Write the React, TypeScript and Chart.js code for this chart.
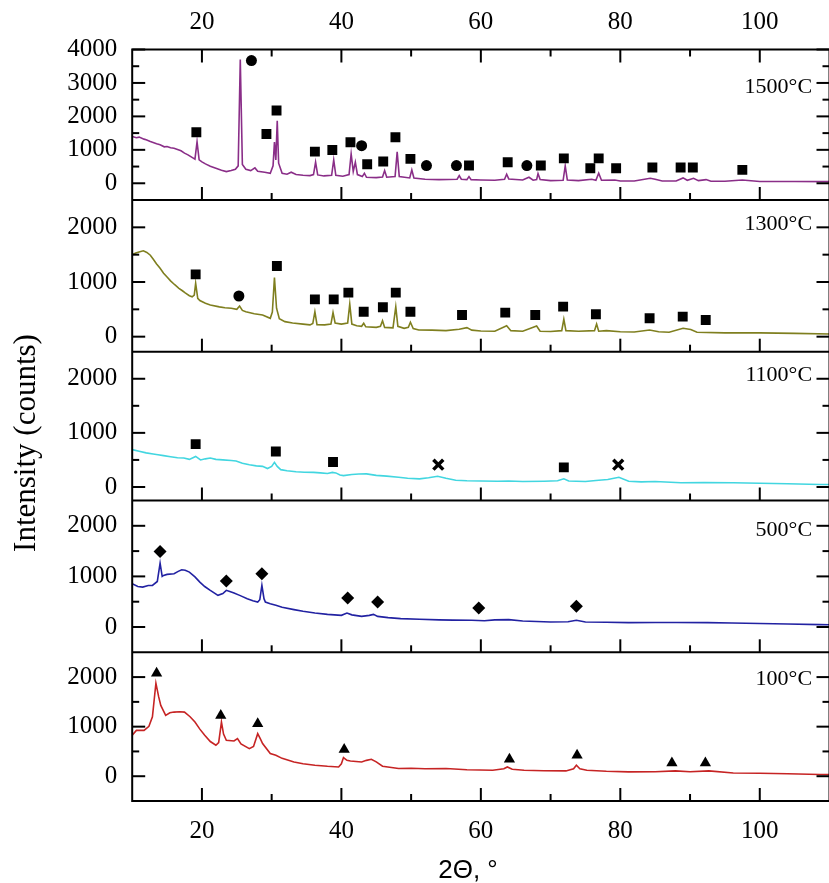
import React, { useEffect, useRef } from 'react';
import { Chart, registerables } from 'chart.js';

Chart.register(...registerables);

// ---------- data (2θ, counts) ----------
const pattern1500: number[][] = [
  [10, 1400], [10.6, 1360], [11, 1380], [11.7, 1320], [12, 1300], [12.6, 1250], [13, 1220], [13.5, 1180],
  [14, 1150], [14.6, 1090], [15, 1100], [15.5, 1060], [16, 1050], [16.5, 1010], [17, 970], [17.5, 900],
  [18, 850], [18.7, 760], [19.0, 720], [19.3, 1240], [19.6, 700], [20, 640], [20.5, 580], [21.2, 510],
  [22, 450], [22.8, 390], [23.5, 350], [24.2, 380], [24.8, 420], [25.2, 520], [25.5, 3700], [25.8, 560],
  [26.3, 420], [27.0, 380], [27.6, 460], [28.0, 360], [29.0, 330], [29.8, 300], [30.2, 520], [30.4, 1230],
  [30.6, 700], [30.8, 1870], [31.0, 600], [31.5, 300], [32.2, 270], [32.8, 330], [33.5, 260], [34.5, 240],
  [35.5, 230], [36.0, 260], [36.3, 630], [36.6, 250], [37.5, 220], [38.6, 240], [38.9, 700], [39.2, 240],
  [40.2, 210], [41.1, 260], [41.4, 880], [41.7, 350], [42.0, 630], [42.3, 260], [43.0, 200], [43.3, 300],
  [43.6, 180], [45.0, 170], [45.9, 190], [46.2, 380], [46.5, 180], [47.7, 200], [48.0, 940], [48.3, 200],
  [49.8, 160], [50.1, 400], [50.4, 160], [52, 120], [54, 110], [56.6, 120], [56.9, 230], [57.2, 120],
  [58.0, 110], [58.3, 200], [58.6, 110], [60, 100], [62, 90], [63.4, 120], [63.7, 270], [64.0, 130],
  [66, 100], [66.9, 180], [67.5, 90], [68.0, 110], [68.2, 290], [68.5, 110], [70, 80], [71.8, 90],
  [72.1, 520], [72.4, 100], [74, 80], [75.9, 120], [76.5, 90], [76.9, 300], [77.3, 90], [79.2, 100],
  [80, 70], [82, 70], [84.3, 150], [85, 120], [86, 70], [88, 70], [89.0, 160], [89.6, 90],
  [90.5, 150], [91.2, 80], [92.3, 110], [93, 60], [95, 60], [97.5, 100], [100, 55], [105, 55], [110, 50],
];

const pattern1300: number[][] = [
  [10, 1500], [10.5, 1530], [11.1, 1555], [11.6, 1570], [12.1, 1540], [12.6, 1490], [13.0, 1420], [13.5, 1330],
  [14.0, 1250], [14.5, 1160], [15.0, 1090], [15.5, 1020], [16.1, 950], [16.7, 885], [17.2, 840], [17.6, 800],
  [18.2, 750], [18.6, 730], [18.9, 760], [19.1, 975], [19.4, 700], [19.7, 660], [20.5, 610], [21.2, 580],
  [22.5, 545], [23.3, 530], [24.2, 520], [25.0, 500], [25.4, 560], [25.8, 480], [26.3, 457], [27.5, 420],
  [28.7, 397], [29.8, 336], [30.1, 450], [30.4, 1080], [30.7, 520], [31.1, 330], [31.9, 275], [33, 250],
  [34.5, 230], [35.5, 215], [35.9, 240], [36.2, 457], [36.5, 220], [37.6, 215], [38.5, 230], [38.8, 440],
  [39.1, 250], [40.0, 230], [40.9, 250], [41.2, 598], [41.5, 230], [42.2, 200], [42.9, 190], [43.2, 245],
  [43.5, 180], [45.0, 170], [45.6, 190], [45.9, 293], [46.2, 170], [47.4, 160], [47.8, 549], [48.1, 190],
  [49.0, 153], [49.6, 170], [49.9, 263], [50.3, 150], [51.1, 122], [53, 120], [55, 110], [56.9, 135],
  [58.0, 165], [58.7, 120], [60, 105], [62, 100], [63.7, 200], [64.3, 110], [66, 100], [68.0, 195],
  [68.5, 100], [70, 95], [71.6, 110], [71.9, 318], [72.2, 110], [74, 100], [76.3, 110], [76.6, 232],
  [76.9, 100], [78, 110], [80, 90], [82, 85], [84.2, 122], [85.5, 90], [87, 80], [89.0, 153],
  [90.1, 130], [91, 80], [95, 70], [100, 70], [105, 60], [110, 50],
];

const pattern1100: number[][] = [
  [10, 690], [11, 660], [12, 630], [13, 610], [13.7, 595], [14.5, 580], [15.5, 560], [16.5, 540],
  [17.4, 535], [18.2, 510], [19.1, 564], [19.8, 500], [20.5, 520], [21.2, 535], [22, 510], [23, 500],
  [24.2, 490], [24.9, 480], [25.8, 440], [26.8, 410], [27.8, 390], [28.7, 381], [29.4, 340], [30.0, 380],
  [30.4, 454], [30.8, 380], [31.3, 320], [32.2, 300], [33.5, 280], [34.7, 271], [36, 270], [37, 260],
  [38, 250], [38.7, 270], [39.2, 260], [39.8, 220], [40.3, 210], [41.5, 230], [42.5, 240], [43.6, 242],
  [45, 215], [46.5, 200], [48.2, 180], [49.5, 160], [51.2, 150], [52.5, 170], [53.8, 198], [55, 160],
  [56.4, 125], [58, 115], [60, 110], [62.4, 106], [64, 110], [66, 100], [69.1, 106], [71.0, 115],
  [71.9, 150], [72.6, 110], [73.7, 106], [75, 100], [76.5, 120], [78.2, 137], [79.8, 180], [81.2, 106],
  [83, 95], [85, 100], [88.7, 77], [92, 80], [96.2, 77], [100, 70], [104, 60], [108.6, 46], [110, 45],
];

const pattern500: number[][] = [
  [10, 856], [10.8, 800], [11.5, 789], [12.3, 820], [12.9, 822], [13.6, 900], [14.0, 1262], [14.3, 1000],
  [14.5, 1020], [15.0, 1040], [16.0, 1053], [16.6, 1100], [17.1, 1132], [17.6, 1120], [18.2, 1085], [19.0, 990],
  [19.7, 888], [20.4, 800], [21.2, 724], [22.3, 625], [23.0, 660], [23.5, 724], [24.0, 700], [24.6, 670],
  [25.5, 620], [26.5, 560], [27.3, 520], [28.0, 493], [28.3, 540], [28.6, 822], [28.9, 560], [29.1, 493],
  [29.8, 460], [30.6, 428], [31.5, 390], [33.2, 343], [34.5, 310], [36.2, 276], [38.0, 250], [40.0, 230],
  [40.8, 276], [41.5, 240], [42.9, 211], [44.0, 230], [44.6, 250], [45.2, 210], [46.7, 185], [48.5, 165],
  [51.2, 152], [54, 140], [56, 135], [58.7, 132], [60.5, 125], [62, 140], [64.0, 146], [66, 120],
  [68, 110], [70, 99], [72.5, 105], [73.7, 132], [75, 100], [78, 95], [81.2, 87], [85, 90],
  [88, 88], [92.5, 87], [96, 80], [100, 70], [104, 60], [108.6, 47], [110, 45],
];

const pattern100: number[][] = [
  [10, 825], [10.6, 925], [11.7, 925], [12.4, 1006], [12.9, 1200], [13.4, 1877], [13.8, 1600], [14.1, 1429],
  [14.8, 1227], [15.4, 1280], [16.0, 1294], [16.8, 1300], [17.5, 1294], [18.3, 1200], [19.0, 1093], [19.7, 950],
  [20.4, 825], [21.2, 700], [22.0, 624], [22.4, 680], [22.8, 1093], [23.1, 850], [23.5, 724], [24.6, 710],
  [25.1, 758], [25.6, 650], [26.8, 557], [27.4, 600], [28.0, 859], [28.4, 750], [28.7, 658], [29.8, 457],
  [30.6, 423], [31.5, 360], [33.2, 288], [34.5, 250], [36.2, 221], [38, 200], [39.6, 187], [40.0, 250],
  [40.3, 376], [40.8, 320], [41.3, 308], [42.9, 288], [43.6, 320], [44.3, 342], [45.0, 290], [45.9, 201],
  [48.2, 155], [50, 160], [52, 150], [55, 155], [58, 130], [61.7, 121], [63.3, 150], [63.8, 187],
  [64.5, 140], [66.2, 121], [69, 110], [72.2, 107], [73.3, 150], [73.7, 221], [74.2, 150], [75.2, 121],
  [78, 100], [81.2, 87], [85, 90], [87.9, 107], [90, 90], [92.7, 107], [96.2, 66], [100, 60],
  [104, 50], [108.6, 34], [110, 34],
];

// phase markers
const squares1500: number[][] = [
  [19.2, 1525], [29.25, 1475], [30.7, 2175], [36.2, 945], [38.7, 995], [41.3, 1225], [43.7, 570], [46.0, 650],
  [47.75, 1375], [49.9, 730], [58.3, 530], [63.85, 630], [68.6, 530], [71.9, 745], [75.7, 450], [76.9, 745],
  [79.4, 450], [84.6, 470], [88.65, 470], [90.4, 470], [97.5, 400],
];
const circles1500: number[][] = [[27.1, 3670], [42.9, 1125], [52.2, 530], [56.5, 530], [66.6, 530]];
const squares1300: number[][] = [
  [19.1, 1140], [30.75, 1292], [36.2, 683], [38.9, 683], [41.0, 805], [43.2, 457], [45.95, 537], [47.8, 805],
  [49.9, 457], [57.3, 397], [63.5, 439], [67.8, 397], [71.8, 549], [76.5, 409], [84.2, 336], [88.95, 366],
  [92.25, 305],
];
const circles1300: number[][] = [[25.3, 744]];
const squares1100: number[][] = [[19.1, 791], [30.6, 656], [38.8, 462], [71.9, 363]];
const crosses1100: number[][] = [[53.9, 412], [79.7, 412]];
const diamonds500: number[][] = [[14.0, 1493], [23.5, 907], [28.6, 1053], [40.9, 572], [45.2, 493], [59.7, 375], [73.7, 408]];
const triangles100: number[][] = [[13.5, 2079], [22.7, 1227], [28.0, 1060], [40.4, 537], [64.1, 342], [73.8, 423], [87.4, 268], [92.2, 268]];

// axes
const xTicks = [20, 40, 60, 80, 100];
const xMinorTicks = [30, 50, 70, 90];
const panelLabels = ['1500°C', '1300°C', '1100°C', '500°C', '100°C'];
const panelTicks = [[0, 1000, 2000, 3000, 4000], [0, 1000, 2000], [0, 1000, 2000], [0, 1000, 2000], [0, 1000, 2000]];
const panelMinorTicks = [[500, 1500, 2500, 3500], [500, 1500], [500, 1500], [500, 1500], [500, 1500]];
const panelRanges = [[-500, 4000], [-275, 2500], [-250, 2500], [-500, 2500], [-500, 2500]];

// ---------- styling ----------
const PANEL_HEIGHTS = [150.5, 151.7, 148.8, 151.8, 148.7];
const PANEL_LABEL_Y = [2930, 2079, 2097, 1947, 1992];
const PANEL_LABEL_X = 107.5;
const COLORS = ['#8a2e88', '#7f7f1f', '#42d6e0', '#2222a2', '#c62424'];
const SERIF = '"Liberation Serif", "Times New Roman", serif';
const SANS = '"Liberation Sans", Arial, sans-serif';
const MAJOR_LEN = 13;
const MINOR_LEN = 7;
const IDS = ['y1', 'y2', 'y3', 'y4', 'y5'];

const toXY = (arr: number[][]) => arr.map(([x, y]) => ({ x, y }));

const markerDs = (data: number[][], yAxisID: string, style: string, radius: number, extra: any = {}) => ({
  data: toXY(data),
  yAxisID,
  xAxisID: 'x',
  showLine: false,
  pointStyle: style,
  pointRadius: radius,
  pointBackgroundColor: '#000',
  pointBorderColor: '#000',
  pointBorderWidth: 0,
  ...extra,
});

const decorPlugin = {
  id: 'decor',
  afterDraw(chart: any) {
    const { ctx, chartArea } = chart;
    const { left, right, top, bottom } = chartArea;
    const xs = chart.scales.x;
    ctx.save();
    ctx.strokeStyle = '#000';
    ctx.fillStyle = '#000';
    ctx.lineWidth = 2;
    const seg = (x1: number, y1: number, x2: number, y2: number) => {
      ctx.beginPath();
      ctx.moveTo(x1, y1);
      ctx.lineTo(x2, y2);
      ctx.stroke();
    };
    ctx.strokeRect(left, top, right - left, bottom - top);
    IDS.forEach((id, i) => {
      const s = chart.scales[id];
      if (i < IDS.length - 1) seg(left, s.bottom, right, s.bottom);
      xTicks.forEach((v) => {
        const px = xs.getPixelForValue(v);
        seg(px, s.bottom, px, s.bottom - MAJOR_LEN);
        if (i === 0) seg(px, s.top, px, s.top + MAJOR_LEN);
      });
      xMinorTicks.forEach((v) => {
        const px = xs.getPixelForValue(v);
        seg(px, s.bottom, px, s.bottom - MINOR_LEN);
        if (i === 0) seg(px, s.top, px, s.top + MINOR_LEN);
      });
      panelTicks[i].forEach((v) => {
        const py = s.getPixelForValue(v);
        seg(left, py, left + MAJOR_LEN, py);
        seg(right, py, right - MAJOR_LEN, py);
      });
      panelMinorTicks[i].forEach((v) => {
        const py = s.getPixelForValue(v);
        seg(left, py, left + MINOR_LEN, py);
        seg(right, py, right - MINOR_LEN, py);
      });
      ctx.font = `22px ${SERIF}`;
      ctx.textAlign = 'right';
      ctx.textBaseline = 'alphabetic';
      ctx.fillText(panelLabels[i], xs.getPixelForValue(PANEL_LABEL_X), s.getPixelForValue(PANEL_LABEL_Y[i]) + 0.34 * 22);
    });
    // y title
    ctx.save();
    ctx.translate(34.5, 443);
    ctx.rotate(-Math.PI / 2);
    ctx.font = `31px ${SERIF}`;
    ctx.textAlign = 'center';
    ctx.textBaseline = 'alphabetic';
    ctx.fillText('Intensity (counts)', 0, 0);
    ctx.restore();
    // x title
    ctx.font = `26px ${SANS}`;
    ctx.textAlign = 'center';
    ctx.textBaseline = 'alphabetic';
    ctx.fillText('2Θ, °', 468, 878);
    ctx.restore();
  },
};

const tickFont = { family: SERIF, size: 25 };

export default function App() {
  const ref = useRef<HTMLCanvasElement>(null);
  useEffect(() => {
    const canvas = ref.current;
    if (!canvas) return;
    const patterns = [pattern1500, pattern1300, pattern1100, pattern500, pattern100];

    const scales: any = {
      x: {
        type: 'linear',
        position: 'bottom',
        min: 10,
        max: 110,
        grid: { display: false, drawTicks: false },
        border: { display: false },
        afterBuildTicks: (s: any) => { s.ticks = xTicks.map((v) => ({ value: v })); },
        afterFit: (s: any) => { s.height = 82; },
        ticks: { autoSkip: false, maxRotation: 0, padding: 15, color: '#000', font: tickFont, callback: (v: any) => String(v) },
      },
      x2: {
        type: 'linear',
        position: 'top',
        min: 10,
        max: 110,
        grid: { display: false, drawTicks: false },
        border: { display: false },
        afterBuildTicks: (s: any) => { s.ticks = xTicks.map((v) => ({ value: v })); },
        afterFit: (s: any) => { s.height = 49.5; },
        ticks: { autoSkip: false, maxRotation: 0, padding: 12, color: '#000', font: tickFont, callback: (v: any) => String(v) },
      },
    };
    IDS.forEach((id, i) => {
      scales[id] = {
        type: 'linear',
        position: 'left',
        stack: 'panels',
        stackWeight: PANEL_HEIGHTS[i],
        weight: 10 - i,
        min: panelRanges[i][0],
        max: panelRanges[i][1],
        grid: { display: false, drawTicks: false },
        border: { display: false },
        afterBuildTicks: (s: any) => { s.ticks = panelTicks[i].map((v) => ({ value: v })); },
        afterFit: (s: any) => { s.width = 132.2; },
        ticks: { autoSkip: false, padding: 15, color: '#000', font: tickFont, callback: (v: any) => String(v) },
      };
    });

    const datasets: any[] = [
      markerDs(squares1500, 'y1', 'rect', 7),
      markerDs(circles1500, 'y1', 'circle', 5.5),
      markerDs(squares1300, 'y2', 'rect', 7),
      markerDs(circles1300, 'y2', 'circle', 5.5),
      markerDs(squares1100, 'y3', 'rect', 7),
      markerDs(crosses1100, 'y3', 'crossRot', 7, { pointBorderWidth: 3.5 }),
      markerDs(diamonds500, 'y4', 'rectRot', 6.5),
      markerDs(triangles100, 'y5', 'triangle', 6.5),
    ];
    patterns.forEach((p, i) => {
      datasets.push({
        data: toXY(p),
        yAxisID: IDS[i],
        xAxisID: 'x',
        borderColor: COLORS[i],
        borderWidth: 1.6,
        pointRadius: 0,
        tension: 0,
        fill: false,
      });
    });

    const chart = new Chart(canvas, {
      type: 'line',
      data: { datasets },
      options: {
        animation: false,
        responsive: false,
        devicePixelRatio: 1,
        layout: { padding: { left: 0, right: 1.4, top: 0, bottom: 0 } },
        plugins: { legend: { display: false }, tooltip: { enabled: false } },
        events: [],
        scales,
      } as any,
      plugins: [decorPlugin],
    });
    return () => chart.destroy();
  }, []);

  return (
    <div style={{ position: 'fixed', left: 0, top: 0, width: 829, height: 883, overflow: 'hidden', background: '#fff' }}>
      <canvas ref={ref} width={840} height={883} style={{ display: 'block', width: 840, height: 883 }} />
    </div>
  );
}
